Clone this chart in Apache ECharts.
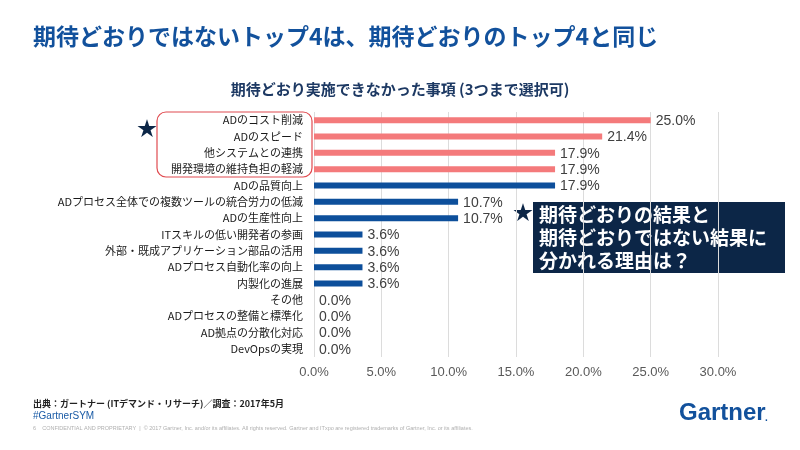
<!DOCTYPE html>
<html>
	<head>
		<meta charset="utf-8" />
		<title>期待どおり実施できなかった事項</title>
		<style type="text/css">
			html, body {margin:0;padding:0;background:#fff;}
			#chart {width:800px;height:450px;}
		</style>
	</head>
	<body>
		<div id="chart"></div>
		<script src="https://cdn.jsdelivr.net/npm/echarts@6/dist/echarts.min.js"></script>
		<script type="text/javascript">
			// 項目（上から順）
			const categories = [
				'ADのコスト削減',
				'ADのスピード',
				'他システムとの連携',
				'開発環境の維持負担の軽減',
				'ADの品質向上',
				'ADプロセス全体での複数ツールの統合労力の低減',
				'ADの生産性向上',
				'ITスキルの低い開発者の参画',
				'外部・既成アプリケーション部品の活用',
				'ADプロセス自動化率の向上',
				'内製化の進展',
				'その他',
				'ADプロセスの整備と標準化',
				'AD拠点の分散化対応',
				'DevOpsの実現'
			];
			// 回答率（%）
			const values = [25.0, 21.4, 17.9, 17.9, 17.9, 10.7, 10.7, 3.6, 3.6, 3.6, 3.6, 0.0, 0.0, 0.0, 0.0];
			// 期待どおりのトップ4と同じ項目
			const topCount = 4;
			// 目盛
			const tickLabels = ['0.0%', '5.0%', '10.0%', '15.0%', '20.0%', '25.0%', '30.0%'];

			const pink = '#f47a7b';
			const blue = '#0d4f9b';
			const navy = '#0c2647';
			const jp = '"Noto Sans CJK JP", "Noto Sans", sans-serif';
			const latin = '"Liberation Sans", Arial, sans-serif';

			const chart = echarts.init(document.getElementById('chart'));
			const opt = {
				animation: false,
				grid: {
					left: 314,
					right: 82,
					top: 112,
					bottom: 93,
					containLabel: false
				},
				xAxis: {
					type: 'value',
					min: 0,
					max: 30,
					interval: 5,
					axisLine: {show: false},
					axisTick: {show: false},
					axisLabel: {
						margin: 9,
						color: '#595959',
						fontSize: 13,
						fontFamily: latin,
						formatter: val => tickLabels[Math.round(val / 5)]
					},
					splitLine: {
						lineStyle: {color: '#dcdcdc', width: 1}
					}
				},
				yAxis: {
					type: 'category',
					inverse: true,
					data: categories,
					axisLine: {show: false},
					axisTick: {show: false},
					axisLabel: {
						margin: 11,
						color: '#1a1a1a',
						fontSize: 11,
						fontFamily: jp
					}
				},
				series: [{
					type: 'bar',
					barWidth: 6,
					data: values.map((v, i) => ({
						value: v,
						itemStyle: {color: i < topCount ? pink : blue}
					})),
					label: {
						show: true,
						position: 'right',
						distance: 5,
						offset: [0, 1],
						color: '#404040',
						fontSize: 14,
						fontFamily: latin,
						formatter: p => p.value.toFixed(1) + '%'
					}
				}],
				graphic: [
					//タイトル
					{
						type: 'text', left: 33, top: 25,
						style: {
							text: '期待どおりではないトップ4は、期待どおりのトップ4と同じ',
							fill: '#12519c', font: 'bold 23px ' + jp
						}
					},
					{
						type: 'text', left: 'center', top: 82,
						style: {
							text: '期待どおり実施できなかった事項 (3つまで選択可)',
							fill: '#1d3963', font: 'bold 15px ' + jp
						}
					},
					//トップ4の枠
					{
						type: 'rect',
						shape: {x: 157, y: 112, width: 155, height: 65, r: 9},
						style: {fill: 'none', stroke: '#e04b50', lineWidth: 1.2}
					},
					{
						type: 'text', x: 137, y: 118,
						style: {text: '★', fill: navy, font: '20px ' + jp}
					},
					//コメント
					{
						type: 'text', x: 513, y: 202,
						style: {text: '★', fill: navy, font: '20px ' + jp}
					},
					{
						type: 'rect',
						shape: {x: 533, y: 202, width: 252, height: 71},
						style: {fill: navy}
					},
					{
						type: 'text', x: 539, y: 203,
						style: {
							text: '期待どおりの結果と\n期待どおりではない結果に\n分かれる理由は？',
							fill: '#ffffff', font: 'bold 19px ' + jp, lineHeight: 23
						}
					},
					//出典
					{
						type: 'text', x: 33, y: 399,
						style: {
							text: '出典：ガートナー (ITデマンド・リサーチ)／調査：2017年5月',
							fill: '#222', font: 'bold 9px ' + jp
						}
					},
					{
						type: 'text', x: 33, y: 411,
						style: {text: '#GartnerSYM', fill: '#1a5ba6', font: '10px ' + latin}
					},
					{
						type: 'text', x: 33, y: 425,
						style: {
							text: '6    CONFIDENTIAL AND PROPRIETARY  |  © 2017 Gartner, Inc. and/or its affiliates. All rights reserved. Gartner and ITxpo are registered trademarks of Gartner, Inc. or its affiliates.',
							fill: '#b0b0b0', font: '5.5px ' + latin
						}
					},
					{
						type: 'text', x: 679, y: 401,
						style: {text: 'Gartner', fill: '#12519c', font: 'bold 24px ' + latin}
					},
					{
						type: 'text', x: 765, y: 413,
						style: {text: '.', fill: '#12519c', font: 'bold 10px ' + latin}
					}
				]
			};
			chart.setOption(opt);
		</script>
	</body>
</html>
